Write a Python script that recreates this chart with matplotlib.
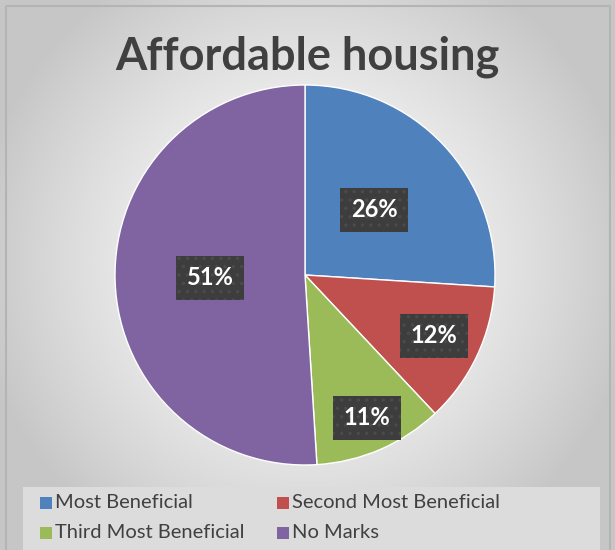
import numpy as np
import matplotlib
matplotlib.use("Agg")
import matplotlib.pyplot as plt
from matplotlib.patches import Rectangle

categories = ["Most Beneficial", "Second Most Beneficial", "Third Most Beneficial", "No Marks"]
shares = [26, 12, 11, 51]
colors = ["#4f81bd", "#c0504d", "#9bbb59", "#8064a2"]
# where each percent label sits along its slice (fraction of radius)
label_dist = [0.5, 0.75, 0.82, 0.5]

W, H = 615, 550
fig = plt.figure(figsize=(W / 100, H / 100), dpi=100)

# radial gradient background
bg = fig.add_axes([0, 0, 1, 1])
yy, xx = np.mgrid[0:H, 0:W]
d = np.sqrt(((xx - 305) / 330.0) ** 2 + ((yy - 260) / 330.0) ** 2)
d = np.clip(d, 0, 1)
shade = 1.0 - 0.22 * d ** 1.4
bg.imshow(np.dstack([shade] * 3), extent=[0, W, H, 0], aspect="auto")
bg.set_xlim(0, W)
bg.set_ylim(H, 0)
bg.axis("off")
bg.add_patch(Rectangle((5.5, 5.5), W - 11, H, fill=False, ec="#b4b4b4", lw=1.5))
# legend panel
bg.add_patch(Rectangle((23, 487), 577, 70, fc="#dcdcdc", ec="none"))

fig.text(0.5, 1 - 57 / H, "Affordable housing", ha="center", va="center",
         fontsize=32.5, fontweight="bold", color="#404040", family="Lato")

# pie
cx, cy, r = 305, 275, 190
ax = fig.add_axes([(cx - r) / W, (H - cy - r) / H, 2 * r / W, 2 * r / H])
wedges, _ = ax.pie(shares, colors=colors, startangle=90, counterclock=False,
                   wedgeprops=dict(edgecolor="white", linewidth=1))
ax.set_xlim(-1, 1)
ax.set_ylim(-1, 1)
ax.set_aspect("equal")

plt.rcParams["hatch.linewidth"] = 1.2
for w, pct, dist in zip(wedges, shares, label_dist):
    ang = np.deg2rad((w.theta1 + w.theta2) / 2)
    ax.text(dist * np.cos(ang), dist * np.sin(ang), f"{pct}%",
            ha="center", va="center", fontsize=17, fontweight="bold",
            color="white", family="Lato", zorder=5,
            bbox=dict(boxstyle="square,pad=0.45", fc="#3d3d3d", ec="#4b4b4b",
                      lw=0, hatch=".."))

# legend
leg_pos = [(40, 503), (277, 503), (40, 533), (277, 533)]
for (lx, ly), name, c in zip(leg_pos, categories, colors):
    bg.add_patch(Rectangle((lx, ly - 6), 12, 12, fc=c, ec="none"))
    bg.text(lx + 15, ly, name, ha="left", va="center", fontsize=14.5,
            color="#404040", family="Lato")

fig.savefig("out.png", dpi=100)
